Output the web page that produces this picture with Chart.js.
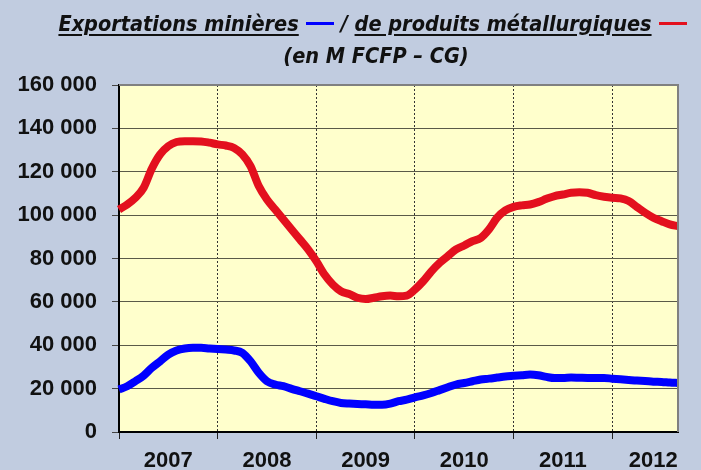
<!DOCTYPE html>
<html>
<head>
<meta charset="utf-8">
<script src="https://cdn.jsdelivr.net/npm/chart.js@4.4.1/dist/chart.umd.min.js"></script>
<style>
  body { margin: 0; background: #c1cce0; overflow: hidden; }
  #wrap { position: relative; width: 701px; height: 470px; }
  #title {
    position: absolute; top: 8px; left: 0; width: 752px;
    text-align: center; white-space: nowrap;
    font-family: "DejaVu Sans Condensed", "DejaVu Sans", sans-serif;
    font-style: italic; font-weight: bold; font-size: 21.5px; line-height: 32px;
    color: #111; z-index: 2;
  }
  #title u { text-decoration-thickness: 2px; text-underline-offset: 3px; }
  .dash { display: inline-block; width: 28px; height: 3px; vertical-align: 6px; margin: 0 7px; }
  canvas { position: absolute; left: 0; top: 0; }
</style>
</head>
<body>
<div id="wrap">
  <div id="title">
    <u>Exportations minières</u><span class="dash" style="background:#0000ff"></span>/ <u>de produits métallurgiques</u><span class="dash" style="background:#e3101e"></span><br>
    (en M FCFP – CG)
  </div>
  <canvas id="chart" width="701" height="470"></canvas>
</div>
<script>
// Data (M FCFP), monthly from Jan 2007 to Sep 2012
const years = ['2007', '2008', '2009', '2010', '2011', '2012'];
const monthsPerYear = [12, 12, 12, 12, 12, 9];

const metallurgie = [
  102600, 104900, 108000, 112600, 121500, 128000, 131800, 133700, 134100, 134100, 134000, 133400,
  132600, 132100, 131000, 128000, 122600, 113400, 107200, 102600, 98000, 93400, 88800, 84200,
  78800, 72600, 68000, 64900, 63600, 61900, 61300, 61900, 62600, 62900, 62600, 62900,
  65700, 69500, 74100, 78000, 81100, 84200, 86000, 88000, 89500, 93400, 98800, 102200,
  103800, 104500, 104900, 106000, 107500, 108800, 109500, 110300, 110500, 110300, 109200, 108500,
  108000, 107700, 106500, 103800, 101100, 98800, 97200, 95700, 94900
];

const minerai = [
  19600, 21100, 23400, 26000, 29600, 32600, 35700, 37600, 38500, 38800, 38800, 38500,
  38300, 38000, 37600, 36500, 32600, 27300, 23400, 21900, 21100, 19900, 18800, 17700,
  16500, 15300, 14200, 13400, 13100, 12900, 12800, 12600, 12600, 13100, 14200, 14900,
  16000, 16900, 18000, 19300, 20600, 21900, 22600, 23400, 24200, 24600, 25100, 25600,
  25900, 26200, 26500, 26200, 25400, 24900, 24900, 25100, 25000, 24900, 24900, 24900,
  24600, 24300, 24000, 23700, 23500, 23200, 23100, 22800, 22600
];

// Build month labels + where year labels go
const labels = [];
const yearStarts = [];
const yearLabelAt = {};
years.forEach((y, k) => {
  yearStarts.push(labels.length);
  yearLabelAt[labels.length + Math.ceil(monthsPerYear[k] / 2)] = y;
  for (let m = 1; m <= monthsPerYear[k]; m++) {
    labels.push(y + '-' + String(m).padStart(2, '0'));
  }
});

const fmt = v => String(v).replace(/\B(?=(\d{3})+(?!\d))/g, ' ');

// Plot background + top/right frame
const plotBg = {
  id: 'plotBg',
  beforeDraw(chart) {
    const { ctx, chartArea: a } = chart;
    ctx.save();
    ctx.fillStyle = '#ffffcc';
    ctx.fillRect(a.left, a.top, a.right - a.left, a.bottom - a.top);
    ctx.restore();
  },
  afterDraw(chart) {
    const { ctx, chartArea: a } = chart;
    ctx.save();
    ctx.strokeStyle = '#808080';
    ctx.lineWidth = 2;
    ctx.beginPath();
    ctx.moveTo(a.left, a.top);
    ctx.lineTo(a.right, a.top);
    ctx.lineTo(a.right, a.bottom);
    ctx.stroke();
    ctx.restore();
  }
};

const axisFont = { family: '"Liberation Sans", Arial, sans-serif', size: 22, weight: 'bold' };

new Chart(document.getElementById('chart'), {
  type: 'line',
  data: {
    labels: labels,
    datasets: [
      {
        label: 'de produits métallurgiques',
        data: metallurgie,
        borderColor: '#e3101e',
        borderWidth: 8,
        borderCapStyle: 'butt',
        pointRadius: 0,
        cubicInterpolationMode: 'monotone'
      },
      {
        label: 'Exportations minières',
        data: minerai,
        borderColor: '#0000ff',
        borderWidth: 8,
        borderCapStyle: 'butt',
        pointRadius: 0,
        cubicInterpolationMode: 'monotone'
      }
    ]
  },
  options: {
    responsive: false,
    animation: false,
    layout: { padding: { top: 85, right: 23, left: 0, bottom: 0 } },
    plugins: { legend: { display: false }, tooltip: { enabled: false } },
    scales: {
      x: {
        offset: false,
        afterFit: s => { s.height = 38; },
        grid: {
          color: c => (yearStarts.includes(c.index) && c.index > 0) ? '#333' : 'transparent',
          tickColor: c => yearStarts.includes(c.index) ? '#222' : 'transparent',
          tickLength: 7,
          tickBorderDash: [],
          lineWidth: 1
        },
        border: { display: true, color: '#000', width: 2, dash: [2, 2] },
        ticks: {
          autoSkip: false,
          maxRotation: 0,
          minRotation: 0,
          padding: 9,
          color: '#111',
          font: axisFont,
          callback: (v, i) => yearLabelAt[i] || ''
        }
      },
      y: {
        min: 0,
        max: 160000,
        afterFit: s => { s.width = 119; },
        grid: { color: '#5a5a48', lineWidth: 1, tickLength: 7, tickColor: '#444' },
        border: { display: true, color: '#000', width: 2 },
        ticks: {
          stepSize: 20000,
          padding: 15,
          color: '#111',
          font: axisFont,
          callback: v => fmt(v)
        }
      }
    }
  },
  plugins: [plotBg]
});
</script>
</body>
</html>
